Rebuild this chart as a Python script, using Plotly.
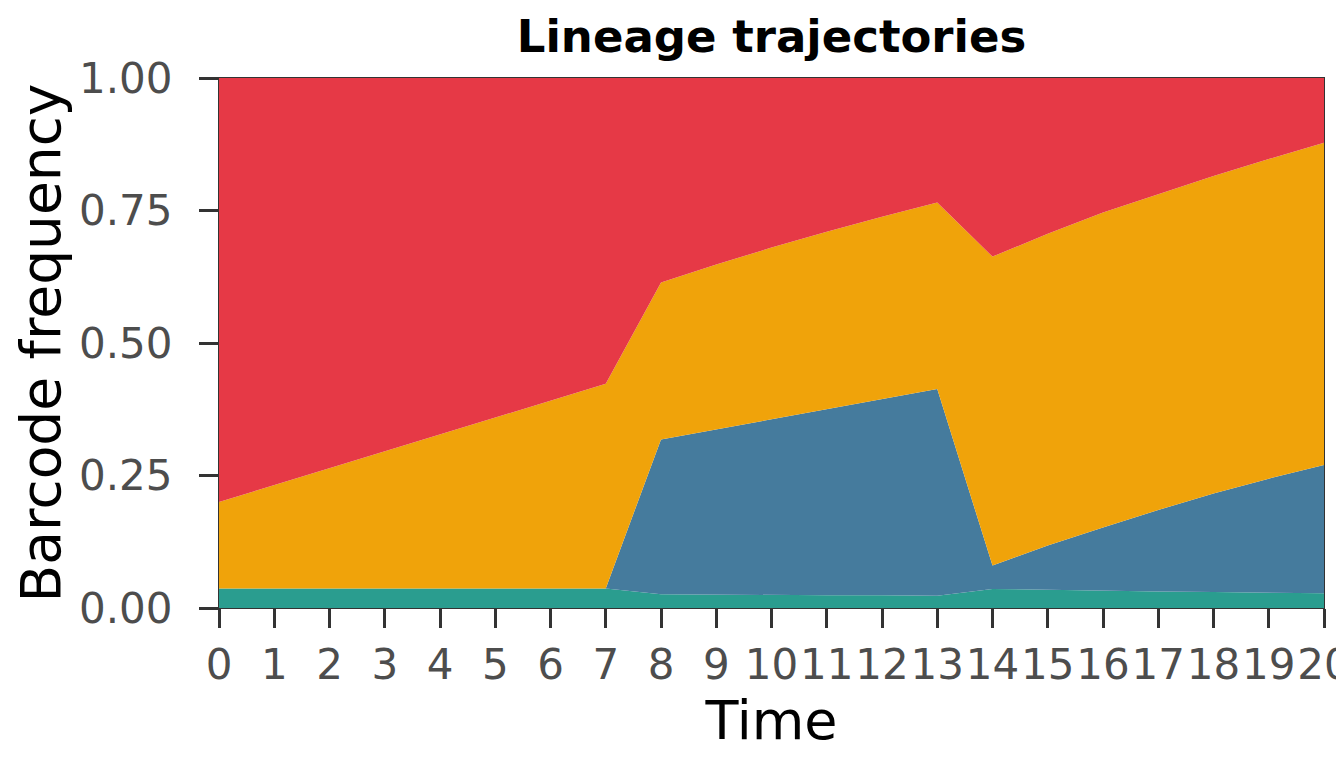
import plotly.graph_objects as go

time = list(range(21))
lineage_teal = [0.037, 0.037, 0.037, 0.037, 0.037, 0.037, 0.037, 0.037,
                0.026, 0.025, 0.025, 0.024, 0.024, 0.023,
                0.036, 0.034, 0.032, 0.031, 0.030, 0.029, 0.028]
lineage_blue = [0.0, 0.0, 0.0, 0.0, 0.0, 0.0, 0.0, 0.0,
                0.292, 0.312, 0.331, 0.351, 0.370, 0.390,
                0.044, 0.084, 0.120, 0.154, 0.186, 0.215, 0.242]
lineage_orange = [0.163, 0.195, 0.227, 0.259, 0.291, 0.323, 0.355, 0.386,
                  0.296, 0.311, 0.324, 0.335, 0.344, 0.352,
                  0.583, 0.588, 0.594, 0.596, 0.599, 0.603, 0.608]
lineage_red = [0.800, 0.768, 0.736, 0.704, 0.672, 0.640, 0.608, 0.577,
               0.386, 0.352, 0.320, 0.290, 0.262, 0.235,
               0.337, 0.294, 0.254, 0.219, 0.185, 0.153, 0.122]
y_ticks = [0, 0.25, 0.5, 0.75, 1.0]
y_tick_labels = ["0.00", "0.25", "0.50", "0.75", "1.00"]

series = [
    ("Lineage 1", lineage_teal, "#2A9D8F"),
    ("Lineage 2", lineage_blue, "#457B9D"),
    ("Lineage 3", lineage_orange, "#F0A30A"),
    ("Lineage 4", lineage_red, "#E63946"),
]

fig = go.Figure()
for name, vals, col in series:
    fig.add_trace(go.Scatter(
        x=time, y=vals, name=name, mode="lines",
        stackgroup="one", line=dict(width=0, color=col),
        fillcolor=col, showlegend=False, hoverinfo="x+y+name",
    ))

axis_common = dict(
    showline=True, mirror=True, linecolor="#333333", linewidth=1.3,
    ticks="outside", ticklen=19, tickwidth=2.5, tickcolor="#333333",
    showgrid=False, zeroline=False, ticklabeloverflow="allow",
    automargin=False,
    tickfont=dict(family="DejaVu Sans", size=42, color="#4D4D4D"),
)

fig.update_layout(
    width=1344, height=768,
    margin=dict(l=211, r=28, t=70, b=168),
    paper_bgcolor="white", plot_bgcolor="white",
    title=dict(text="<b>Lineage trajectories</b>", x=0.5, xref="paper",
               y=1 - 12 / 768, yref="container", yanchor="top",
               font=dict(family="DejaVu Sans", size=45, color="black")),
    xaxis=dict(range=[0, 20], tickmode="array", tickvals=time,
               ticktext=[str(t) for t in time], tickangle=0,
               title=dict(text="Time", standoff=8,
                          font=dict(family="DejaVu Sans", size=54, color="black")),
               **axis_common),
    yaxis=dict(range=[0, 1], tickmode="array", tickvals=y_ticks,
               ticktext=y_tick_labels, ticklabelstandoff=18,
               title=dict(text="Barcode frequency", standoff=0,
                          font=dict(family="DejaVu Sans", size=55, color="black")),
               **axis_common),
)

fig.write_html("out.html")
